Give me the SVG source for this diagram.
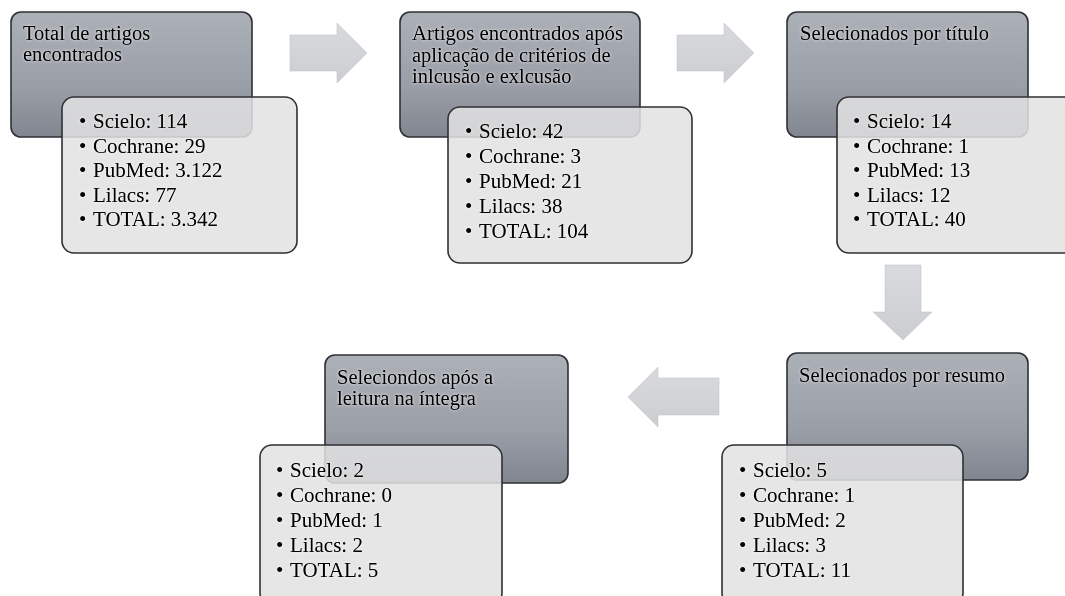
<svg xmlns="http://www.w3.org/2000/svg" width="1065" height="596" viewBox="0 0 1065 596">
<style>
.dark{fill:url(#gd);stroke:#2e3035;stroke-width:1.6}
.light{fill:#e2e2e2;fill-opacity:0.86;stroke:#2e3035;stroke-width:1.6}
.t{font-family:"Liberation Serif","Times New Roman",serif;font-size:20.5px;fill:#000;filter:url(#glow)}
.b{font-family:"Liberation Serif","Times New Roman",serif;font-size:21px;fill:#000;filter:url(#glow)}
.arr{fill:url(#ga);stroke:#c4c6ca;stroke-width:0.6}
</style>
<defs>
<linearGradient id="gd" x1="0" y1="0" x2="0" y2="1">
<stop offset="0" stop-color="#acb0b7"/>
<stop offset="0.6" stop-color="#9a9ea7"/>
<stop offset="1" stop-color="#80858f"/>
</linearGradient>
<linearGradient id="ga" x1="0" y1="0" x2="0" y2="1">
<stop offset="0" stop-color="#d8dadd"/>
<stop offset="1" stop-color="#cbcdd1"/>
</linearGradient>
<filter id="glow" x="-10%" y="-30%" width="120%" height="160%">
<feGaussianBlur in="SourceAlpha" stdDeviation="1.5" result="bl"/>
<feFlood flood-color="#ffffff" flood-opacity="0.9"/>
<feComposite in2="bl" operator="in" result="g"/>
<feMerge><feMergeNode in="g"/><feMergeNode in="SourceGraphic"/><feMergeNode in="SourceGraphic"/></feMerge>
</filter>
</defs>
<rect width="1065" height="596" fill="#ffffff"/>
<g id="connectors">
<polygon class="arr" points="290,35 337,35 337,23 367,53 337,83 337,71 290,71"/>
<polygon class="arr" points="677,35 724,35 724,23 754,53 724,83 724,71 677,71"/>
<polygon class="arr" points="885,265 921,265 921,312 932,312 903,340 873,312 885,312"/>
<polygon class="arr" points="719,378 658,378 658,367 628,397 658,427 658,415 719,415"/>
</g>
<g id="node1">
<rect class="dark" x="11" y="12" width="241" height="125" rx="10"/>
<rect class="light" x="62" y="97" width="235" height="156" rx="12"/>
<text class="t" x="23" y="40">Total de artigos</text>
<text class="t" x="23" y="61">encontrados</text>
<text class="b"><tspan x="79" y="128">•</tspan><tspan x="93" y="128">Scielo: 114</tspan><tspan x="79" y="152.5">•</tspan><tspan x="93" y="152.5">Cochrane: 29</tspan><tspan x="79" y="177">•</tspan><tspan x="93" y="177">PubMed: 3.122</tspan><tspan x="79" y="201.5">•</tspan><tspan x="93" y="201.5">Lilacs: 77</tspan><tspan x="79" y="226">•</tspan><tspan x="93" y="226">TOTAL: 3.342</tspan></text>
</g>
<g id="node2">
<rect class="dark" x="400" y="12" width="240" height="125" rx="10"/>
<rect class="light" x="448" y="107" width="244" height="156" rx="12"/>
<text class="t" x="412" y="40" textLength="211" lengthAdjust="spacingAndGlyphs">Artigos encontrados após</text>
<text class="t" x="412" y="61.5">aplicação de critérios de</text>
<text class="t" x="412" y="83">inlcusão e exlcusão</text>
<text class="b"><tspan x="465" y="138">•</tspan><tspan x="479" y="138">Scielo: 42</tspan><tspan x="465" y="163">•</tspan><tspan x="479" y="163">Cochrane: 3</tspan><tspan x="465" y="188">•</tspan><tspan x="479" y="188">PubMed: 21</tspan><tspan x="465" y="213">•</tspan><tspan x="479" y="213">Lilacs: 38</tspan><tspan x="465" y="238">•</tspan><tspan x="479" y="238">TOTAL: 104</tspan></text>
</g>
<g id="node3">
<rect class="dark" x="787" y="12" width="241" height="125" rx="10"/>
<rect class="light" x="837" y="97" width="240" height="156" rx="12"/>
<text class="t" x="800" y="40">Selecionados por título</text>
<text class="b"><tspan x="853" y="128">•</tspan><tspan x="867" y="128">Scielo: 14</tspan><tspan x="853" y="152.5">•</tspan><tspan x="867" y="152.5">Cochrane: 1</tspan><tspan x="853" y="177">•</tspan><tspan x="867" y="177">PubMed: 13</tspan><tspan x="853" y="201.5">•</tspan><tspan x="867" y="201.5">Lilacs: 12</tspan><tspan x="853" y="226">•</tspan><tspan x="867" y="226">TOTAL: 40</tspan></text>
</g>
<g id="node5">
<rect class="dark" x="787" y="353" width="241" height="127" rx="10"/>
<rect class="light" x="722" y="445" width="241" height="160" rx="12"/>
<text class="t" x="799" y="382">Selecionados por resumo</text>
<text class="b"><tspan x="739" y="477">•</tspan><tspan x="753" y="477">Scielo: 5</tspan><tspan x="739" y="502">•</tspan><tspan x="753" y="502">Cochrane: 1</tspan><tspan x="739" y="527">•</tspan><tspan x="753" y="527">PubMed: 2</tspan><tspan x="739" y="552">•</tspan><tspan x="753" y="552">Lilacs: 3</tspan><tspan x="739" y="577">•</tspan><tspan x="753" y="577">TOTAL: 11</tspan></text>
</g>
<g id="node4">
<rect class="dark" x="325" y="355" width="243" height="128" rx="10"/>
<rect class="light" x="260" y="445" width="242" height="160" rx="12"/>
<text class="t" x="337" y="384">Seleciondos após a</text>
<text class="t" x="337" y="405">leitura na íntegra</text>
<text class="b"><tspan x="276" y="477">•</tspan><tspan x="290" y="477">Scielo: 2</tspan><tspan x="276" y="502">•</tspan><tspan x="290" y="502">Cochrane: 0</tspan><tspan x="276" y="527">•</tspan><tspan x="290" y="527">PubMed: 1</tspan><tspan x="276" y="552">•</tspan><tspan x="290" y="552">Lilacs: 2</tspan><tspan x="276" y="577">•</tspan><tspan x="290" y="577">TOTAL: 5</tspan></text>
</g>
</svg>
